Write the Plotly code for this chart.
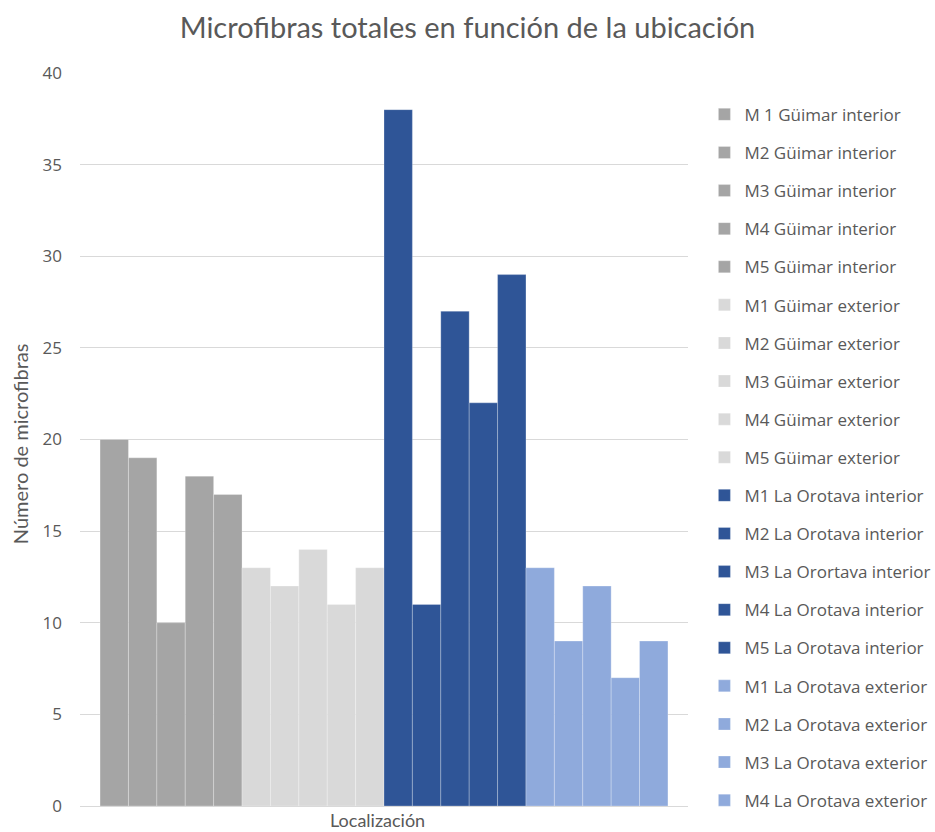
import plotly.graph_objects as go

series_names = [
    "M 1 Güimar interior", "M2 Güimar interior", "M3 Güimar interior", "M4 Güimar interior", "M5 Güimar interior",
    "M1 Güimar exterior", "M2 Güimar exterior", "M3 Güimar exterior", "M4 Güimar exterior", "M5 Güimar exterior",
    "M1 La Orotava interior", "M2 La Orotava interior", "M3 La Orortava interior", "M4 La Orotava interior", "M5 La Orotava interior",
    "M1 La Orotava exterior", "M2 La Orotava exterior", "M3 La Orotava exterior", "M4 La Orotava exterior", "M5 La Orotava exterior",
]
values = [20, 19, 10, 18, 17,
          13, 12, 14, 11, 13,
          38, 11, 27, 22, 29,
          13, 9, 12, 7, 9]
group_colors = ["#A5A5A5"] * 5 + ["#D9D9D9"] * 5 + ["#2F5597"] * 5 + ["#8FAADC"] * 5
category = ["Localización"]
y_ticks = [0, 5, 10, 15, 20, 25, 30, 35, 40]

fig = go.Figure()
for i, (name, v, c) in enumerate(zip(series_names, values, group_colors)):
    fig.add_trace(go.Bar(
        x=category, y=[v], name=name,
        marker=dict(color=c, line=dict(color="rgba(255,255,255,0.25)", width=1)),
        legendgroup=f"g{i}",
        showlegend=(i < 19),
    ))

fig.update_layout(
    width=935, height=832,
    barmode="group", bargap=0.066, bargroupgap=0,
    plot_bgcolor="white", paper_bgcolor="white",
    margin=dict(l=80, r=247, t=73, b=26, autoexpand=False),
    title=dict(text="Microfibras totales en función de la ubicación",
               x=0.5, xanchor="center", xref="container", y=1 - 28 / 832, yanchor="middle", yref="container",
               font=dict(family="Lato", size=29, color="#595959")),
    font=dict(family="Open Sans", color="#595959"),
    legend=dict(x=1.027, xanchor="left", y=0.9675, yanchor="top",
                font=dict(family="Open Sans", size=17, color="#595959"),
                tracegroupgap=13, itemwidth=30, bgcolor="rgba(0,0,0,0)"),
    showlegend=True,
    annotations=[
        dict(text="Número de microfibras", textangle=-90, x=-0.0987, y=0.495,
             xref="paper", yref="paper", xanchor="center", yanchor="middle", showarrow=False,
             font=dict(family="Lato", size=20, color="#595959")),
        dict(text="Localización", x=0.49, y=0, xref="paper", yref="paper",
             xanchor="center", yanchor="top", yshift=-1, showarrow=False,
             font=dict(family="Lato", size=18, color="#595959")),
    ],
)
fig.update_yaxes(range=[0, 40], tickvals=y_ticks, showgrid=True, gridcolor="#D9D9D9", gridwidth=1,
                 zeroline=False, showline=False, ticks="", ticklen=0, automargin=False,
                 ticklabelstandoff=17,
                 tickfont=dict(family="Open Sans", size=17, color="#595959"))
fig.update_xaxes(range=[-0.5, 0.5], showline=True, linecolor="#D9D9D9", linewidth=1, ticks="",
                 showticklabels=False, automargin=False)

fig.write_html("out.html", config={"displayModeBar": False},
               post_script="document.body.style.margin='0';document.body.style.overflow='hidden';")
